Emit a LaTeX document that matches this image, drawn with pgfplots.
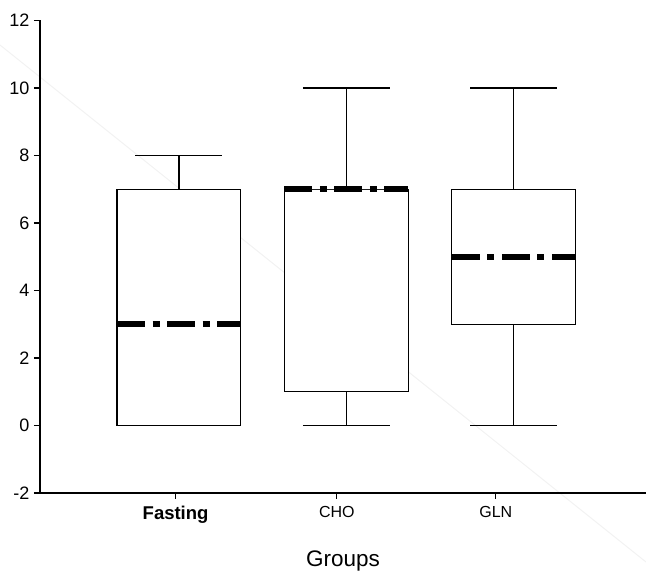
\documentclass[border=0pt]{standalone}
\usepackage{fontspec}
\setmainfont{Liberation Sans}
\usepackage{pgfplots}
\pgfplotsset{compat=1.18}
\usepgfplotslibrary{statistics}

\begin{document}
\begin{tikzpicture}
% page size and the faint diagonal line behind the boxes
\path[use as bounding box] (-40pt,-80pt) rectangle (606pt,493pt);
\draw[black!5, line width=1pt] (-40pt,448pt) -- (606pt,-69pt);
\begin{axis}[
    scale only axis,
    width=606pt, height=472.5pt,
    xmin=0.17, xmax=3.79,
    ymin=-2, ymax=12,
    axis lines*=left,
    axis line style={line width=1.3pt},
    tick align=outside,
    major tick length=6pt,
    tick style={line width=1.1pt, black},
    ytick={-2,0,2,4,6,8,10,12},
    yticklabels={-2,0,2,4,6,8,10,12},
    yticklabel style={font=\fontsize{18}{18}\selectfont, xshift=-1pt},
    xtick={0.98,1.943,2.893},
    xticklabels={{\fontsize{18.5}{18}\selectfont\textbf{Fasting}},CHO,GLN},
    xticklabel style={font=\fontsize{16}{16}\selectfont, yshift=-4pt},
    xlabel={Groups},
    xlabel style={font=\fontsize{22.5}{22}\selectfont,
      at={(axis description cs:0.5,0)}, anchor=base, yshift=-74pt},
    boxplot/draw direction=y,
    boxplot/box extend=0.74,
    boxplot/whisker extend=0.52,
    boxplot/every median/.style={line width=6pt,
      dash pattern=on 28pt off 7.5pt on 7pt off 7.5pt},
    every axis plot/.append style={black, fill=white, line width=1.2pt, solid, mark=none},
  ]
  % Fasting
  \addplot[boxplot prepared={draw position=1,
      lower whisker=0, lower quartile=0, median=3,
      upper quartile=7, upper whisker=8}] coordinates {};
  % CHO
  \addplot[boxplot prepared={draw position=2,
      lower whisker=0, lower quartile=1, median=7,
      upper quartile=7, upper whisker=10}] coordinates {};
  % GLN
  \addplot[boxplot prepared={draw position=3,
      lower whisker=0, lower quartile=3, median=5,
      upper quartile=7, upper whisker=10}] coordinates {};
\end{axis}
\end{tikzpicture}
\end{document}
